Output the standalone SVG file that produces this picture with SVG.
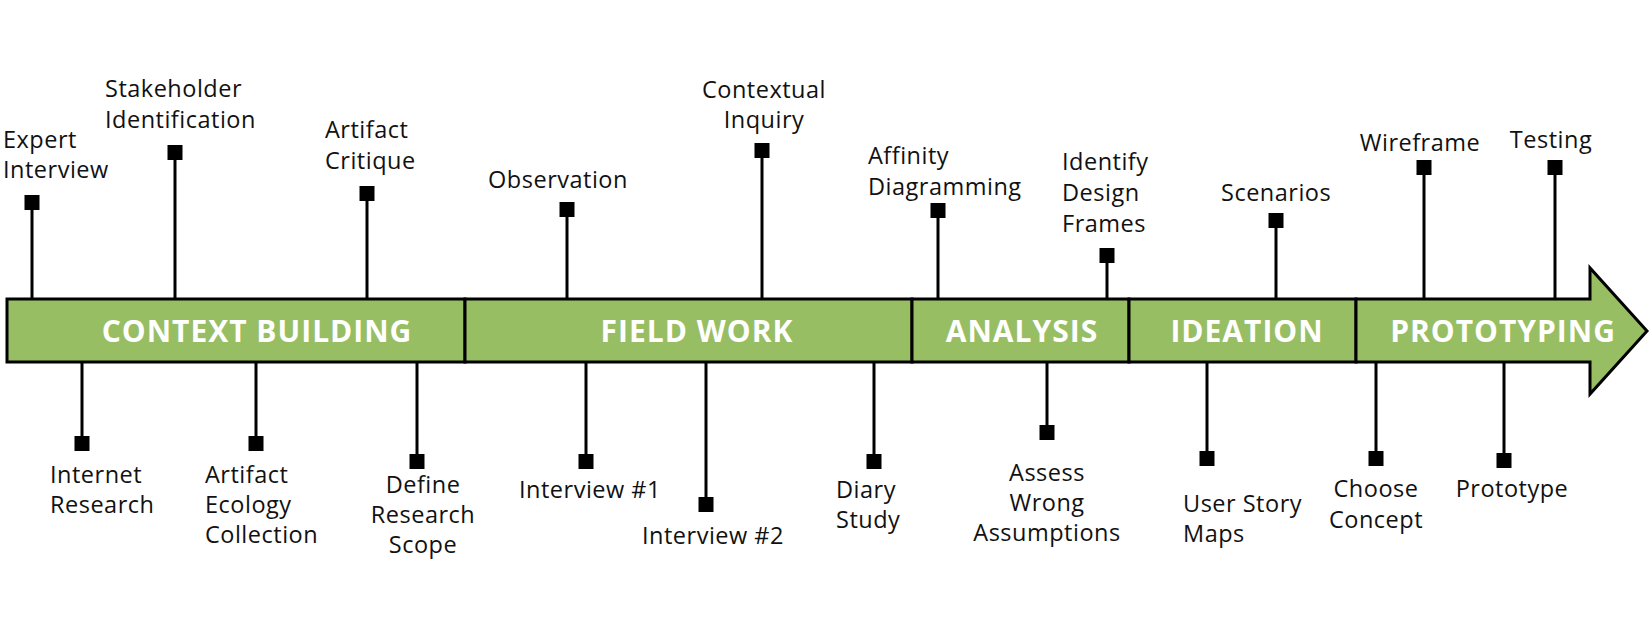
<svg xmlns="http://www.w3.org/2000/svg" width="1650" height="622" viewBox="0 0 1650 622">
<style>
.bg{fill:#ffffff}
.seg{fill:#98be64;stroke:#000;stroke-width:3;stroke-linejoin:miter}
.phase{font-family:"Open Sans","Liberation Sans",sans-serif;font-weight:700;font-size:30px;letter-spacing:1px;fill:#fff;text-anchor:middle}
.lbl{font-family:"Open Sans","Liberation Sans",sans-serif;font-size:23.5px;letter-spacing:0.5px;fill:#111}
.mid{text-anchor:middle}
.stem{stroke:#000;stroke-width:3;fill:none}
.sq{fill:#000}
</style>
<rect class="bg" x="0" y="0" width="1650" height="622"/>
<g id="connectors">
<path class="stem" d="M32 299V205M175 299V155M367 299V196M567 299V212M762 299V153M938 299V213M1107 299V258M1276 299V223M1424 299V170M1555 299V170"/>
<path class="stem" d="M82 362V446M256 362V446M417 362V464M586 362V464M706 362V507M874 362V464M1047 362V435M1207 362V461M1376 362V461M1504 362V463"/>
</g>
<g id="phase-context-building"><rect class="seg" x="7" y="299" width="458" height="63"/><text class="phase" x="257" y="342">CONTEXT BUILDING</text></g>
<g id="phase-field-work"><rect class="seg" x="465" y="299" width="447" height="63"/><text class="phase" x="697" y="342">FIELD WORK</text></g>
<g id="phase-analysis"><rect class="seg" x="912" y="299" width="217" height="63"/><text class="phase" x="1022" y="342">ANALYSIS</text></g>
<g id="phase-ideation"><rect class="seg" x="1129" y="299" width="227" height="63"/><text class="phase" x="1247" y="342">IDEATION</text></g>
<g id="phase-prototyping"><polygon class="seg" points="1356,299 1590,299 1590,268 1647,331 1590,394 1590,362 1356,362"/><text class="phase" x="1503" y="342">PROTOTYPING</text></g>

<g id="expert-interview"><rect class="sq" x="24.5" y="195" width="15" height="15"/><text class="lbl" x="3" y="148">Expert</text><text class="lbl" x="3" y="178">Interview</text></g>
<g id="stakeholder-identification"><rect class="sq" x="167.5" y="145" width="15" height="15"/><text class="lbl" x="105" y="97">Stakeholder</text><text class="lbl" x="105" y="128">Identification</text></g>
<g id="artifact-critique"><rect class="sq" x="359.5" y="186" width="15" height="15"/><text class="lbl" x="325" y="138">Artifact</text><text class="lbl" x="325" y="169">Critique</text></g>
<g id="observation"><rect class="sq" x="559.5" y="202" width="15" height="15"/><text class="lbl mid" x="558" y="188">Observation</text></g>
<g id="contextual-inquiry"><rect class="sq" x="754.5" y="143" width="15" height="15"/><text class="lbl mid" x="764" y="98">Contextual</text><text class="lbl mid" x="764" y="128">Inquiry</text></g>
<g id="affinity-diagramming"><rect class="sq" x="930.5" y="203" width="15" height="15"/><text class="lbl" x="868" y="164">Affinity</text><text class="lbl" x="868" y="195">Diagramming</text></g>
<g id="identify-design-frames"><rect class="sq" x="1099.5" y="248" width="15" height="15"/><text class="lbl" x="1062" y="170">Identify</text><text class="lbl" x="1062" y="201">Design</text><text class="lbl" x="1062" y="232">Frames</text></g>
<g id="scenarios"><rect class="sq" x="1268.5" y="213" width="15" height="15"/><text class="lbl" x="1221" y="201">Scenarios</text></g>
<g id="wireframe"><rect class="sq" x="1416.5" y="160" width="15" height="15"/><text class="lbl mid" x="1420" y="151">Wireframe</text></g>
<g id="testing"><rect class="sq" x="1547.5" y="160" width="15" height="15"/><text class="lbl mid" x="1551" y="148">Testing</text></g>

<g id="internet-research"><rect class="sq" x="74.5" y="436" width="15" height="15"/><text class="lbl" x="50" y="483">Internet</text><text class="lbl" x="50" y="513">Research</text></g>
<g id="artifact-ecology-collection"><rect class="sq" x="248.5" y="436" width="15" height="15"/><text class="lbl" x="205" y="483">Artifact</text><text class="lbl" x="205" y="513">Ecology</text><text class="lbl" x="205" y="543">Collection</text></g>
<g id="define-research-scope"><rect class="sq" x="409.5" y="454" width="15" height="15"/><text class="lbl mid" x="423" y="493">Define</text><text class="lbl mid" x="423" y="523">Research</text><text class="lbl mid" x="423" y="553">Scope</text></g>
<g id="interview-1"><rect class="sq" x="578.5" y="454" width="15" height="15"/><text class="lbl mid" x="590" y="498">Interview #1</text></g>
<g id="interview-2"><rect class="sq" x="698.5" y="497" width="15" height="15"/><text class="lbl mid" x="713" y="544">Interview #2</text></g>
<g id="diary-study"><rect class="sq" x="866.5" y="454" width="15" height="15"/><text class="lbl" x="836" y="498">Diary</text><text class="lbl" x="836" y="528">Study</text></g>
<g id="assess-wrong-assumptions"><rect class="sq" x="1039.5" y="425" width="15" height="15"/><text class="lbl mid" x="1047" y="481">Assess</text><text class="lbl mid" x="1047" y="511">Wrong</text><text class="lbl mid" x="1047" y="541">Assumptions</text></g>
<g id="user-story-maps"><rect class="sq" x="1199.5" y="451" width="15" height="15"/><text class="lbl" x="1183" y="512">User Story</text><text class="lbl" x="1183" y="542">Maps</text></g>
<g id="choose-concept"><rect class="sq" x="1368.5" y="451" width="15" height="15"/><text class="lbl mid" x="1376" y="497">Choose</text><text class="lbl mid" x="1376" y="528">Concept</text></g>
<g id="prototype"><rect class="sq" x="1496.5" y="453" width="15" height="15"/><text class="lbl mid" x="1512" y="497">Prototype</text></g>
</svg>
